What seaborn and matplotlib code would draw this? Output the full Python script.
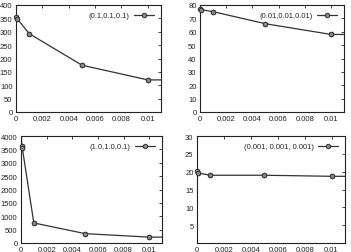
import numpy as np
import pandas as pd
import seaborn as sns
from matplotlib import pyplot as plt

x_a = [0, 0.0001, 0.001, 0.005, 0.01, 0.05]
y_a = [355, 348, 293, 175, 120, 118]

x_b = [0, 0.0001, 0.001, 0.005, 0.01, 0.05]
y_b = [77, 76.5, 75, 66, 58, 57]

x_c = [0, 0.00005, 0.0001, 0.001, 0.005, 0.01, 0.05]
y_c = [4800, 3620, 3560, 750, 350, 220, 205]

x_d = [0, 0.0001, 0.001, 0.005, 0.01, 0.05]
y_d = [20.2, 19.6, 19.0, 19.0, 18.7, 18.5]

labels = ["(0.1,0.1,0.1)", "(0.01,0.01,0.01)", "(1.0,1.0,0.1)", "(0.001, 0.001, 0.001)"]

xticks = [0, 0.002, 0.004, 0.006, 0.008, 0.01]
xticklabels = ["0", "0.002", "0.004", "0.006", "0.008", "0.01"]

sns.set_style("white")
plt.rcParams['font.family'] = ['Liberation Sans', 'DejaVu Sans']

fig = plt.figure(figsize=(3.51, 2.53), dpi=100)

# (left, bottom, width, height) in figure fraction
boxes = [
    (16 / 351, 140 / 253, 145 / 351, 107 / 253),
    (200 / 351, 140 / 253, 144 / 351, 107 / 253),
    (21 / 351, 9 / 253, 141 / 351, 107 / 253),
    (197 / 351, 9 / 253, 148 / 351, 107 / 253),
]
series = [(x_a, y_a), (x_b, y_b), (x_c, y_c), (x_d, y_d)]
ylims = [(0, 400), (0, 80), (0, 4000), (0, 30)]
yticks = [np.arange(0, 401, 50), np.arange(0, 81, 10),
          np.arange(0, 4001, 500), np.arange(5, 31, 5)]
xmax = 0.011

for box, (xs, ys), lab, yl, yt in zip(boxes, series, labels, ylims, yticks):
    ax = fig.add_axes(box)
    df = pd.DataFrame({"x": xs, "y": ys})
    sns.lineplot(data=df, x="x", y="y", ax=ax, color="#333333", lw=0.9,
                 marker="o", markersize=3.2, markerfacecolor="#8a8a8a",
                 markeredgecolor="#333333", markeredgewidth=0.7,
                 label=lab, sort=False)
    # redraw visible markers unclipped (gnuplot draws them over the border)
    inr = df[(df.x <= xmax) & (df.y <= yl[1])]
    ax.plot(inr.x, inr.y, ls="none", marker="o", markersize=3.2,
            markerfacecolor="#8a8a8a", markeredgecolor="#333333",
            markeredgewidth=0.7, clip_on=False, zorder=5)
    ax.set_xlim(0, xmax)
    ax.set_ylim(*yl)
    ax.set_xticks(xticks)
    ax.set_xticklabels(xticklabels)
    ax.set_yticks(yt)
    ax.set_xlabel("")
    ax.set_ylabel("")
    ax.tick_params(direction="in", length=2.5, width=0.6, labelsize=5.5,
                   pad=2.5, top=True, right=True, colors="#222222")
    for s in ax.spines.values():
        s.set_linewidth(0.8)
        s.set_color("#222222")
    ax.legend(loc="upper right", frameon=False, fontsize=5.5, markerfirst=False,
              handlelength=2.6, borderpad=0.4, handletextpad=0.6)

fig.savefig("out.png", dpi=100)
